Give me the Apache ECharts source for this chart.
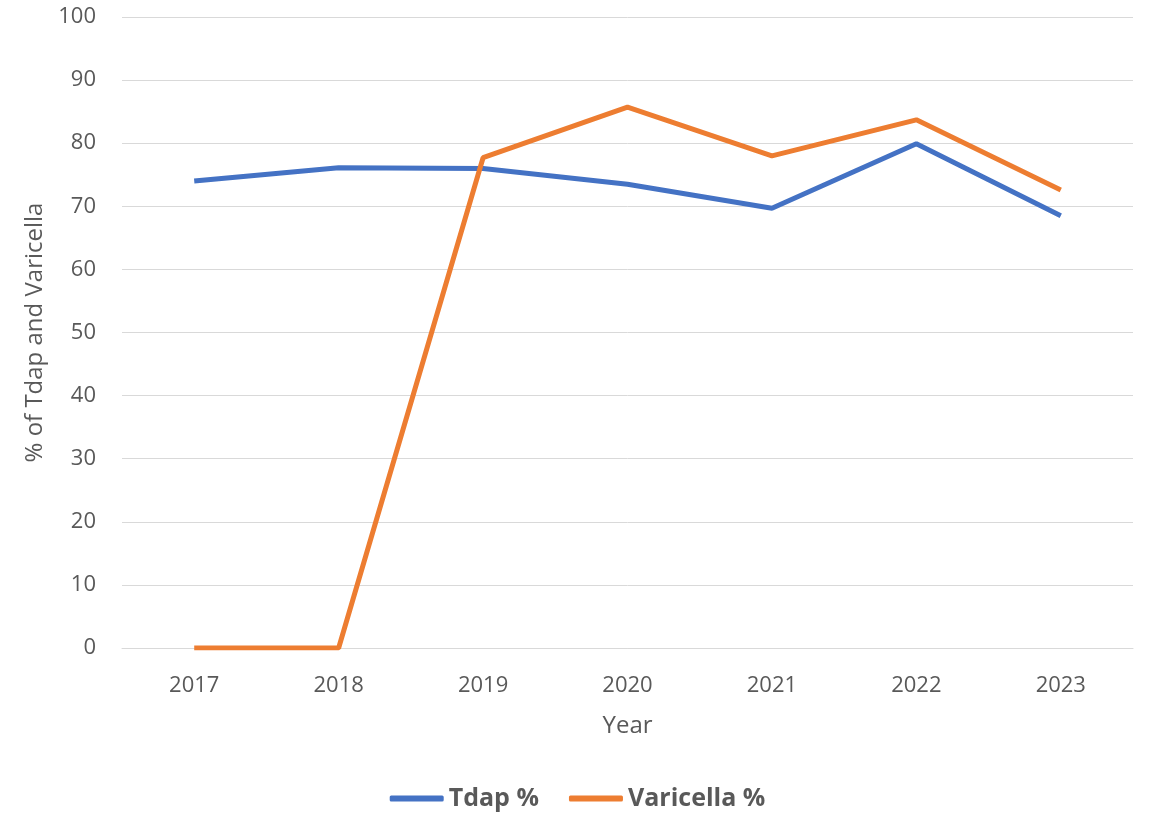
<!DOCTYPE html>
<html>
<head>
<meta charset="utf-8">
<script src="https://cdn.jsdelivr.net/npm/echarts@6/dist/echarts.min.js"></script>
<style>
  html, body { margin: 0; padding: 0; background: #fff; }
  #chart { width: 1155px; height: 816px; }
</style>
</head>
<body>
<div id="chart"></div>
<script>
const years = ['2017', '2018', '2019', '2020', '2021', '2022', '2023']
const tdap = [74.0, 76.1, 76.0, 73.5, 69.7, 79.9, 68.5]
const varicella = [0, 0, 77.7, 85.7, 78.0, 83.7, 72.6]

const chart = echarts.init(document.getElementById('chart'))
const font = '"Open Sans", "Noto Sans", sans-serif'
const grey = '#595959'

chart.setOption({
  backgroundColor: '#fff',
  animation: false,
  textStyle: { fontFamily: font },
  grid: { left: 122, right: 22, top: 17, bottom: 168 },
  legend: {
    top: 781,
    left: 'center',
    itemWidth: 54,
    itemHeight: 6,
    itemGap: 30,
    icon: 'roundRect',
    textStyle: { color: grey, fontSize: 25, fontWeight: 'bold', fontFamily: font },
    data: ['Tdap %', 'Varicella %']
  },
  xAxis: {
    type: 'category',
    data: years,
    name: 'Year',
    nameLocation: 'middle',
    nameGap: 66,
    nameTextStyle: { color: grey, fontSize: 24 },
    axisLine: { show: true, lineStyle: { color: '#d9d9d9' } },
    axisTick: { show: false },
    axisLabel: { color: grey, fontSize: 22, margin: 27 }
  },
  yAxis: {
    type: 'value',
    min: 0,
    max: 100,
    interval: 10,
    name: '% of Tdap and Varicella',
    nameLocation: 'middle',
    nameGap: 74,
    nameTextStyle: { color: grey, fontSize: 24 },
    axisLine: { show: false },
    axisTick: { show: false },
    axisLabel: { color: grey, fontSize: 22, margin: 26 },
    splitLine: { lineStyle: { color: '#d9d9d9', width: 1 } }
  },
  series: [
    {
      name: 'Tdap %',
      type: 'line',
      data: tdap,
      symbol: 'none',
      lineStyle: { color: '#4472C4', width: 5 },
      itemStyle: { color: '#4472C4' }
    },
    {
      name: 'Varicella %',
      type: 'line',
      data: varicella,
      symbol: 'none',
      lineStyle: { color: '#ED7D31', width: 5 },
      itemStyle: { color: '#ED7D31' }
    }
  ]
})
</script>
</body>
</html>
